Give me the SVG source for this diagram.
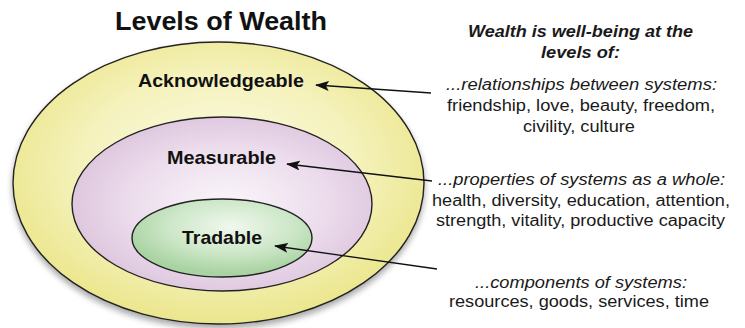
<svg xmlns="http://www.w3.org/2000/svg" width="745" height="328" viewBox="0 0 745 328">
<defs>
<radialGradient id="gY" cx="50%" cy="45%" r="55%">
<stop offset="0" stop-color="#fbfbe6"/>
<stop offset="0.6" stop-color="#f5f2bd"/>
<stop offset="1" stop-color="#ebe68c"/>
</radialGradient>
<radialGradient id="gP" cx="52%" cy="50%" r="55%">
<stop offset="0" stop-color="#faf6fa"/>
<stop offset="0.6" stop-color="#ecdcec"/>
<stop offset="1" stop-color="#dcc4dc"/>
</radialGradient>
<radialGradient id="gG" cx="55%" cy="35%" r="60%">
<stop offset="0" stop-color="#f0f8ee"/>
<stop offset="0.6" stop-color="#cbe6c6"/>
<stop offset="1" stop-color="#a9d3a2"/>
</radialGradient>
<filter id="sh" x="-10%" y="-10%" width="120%" height="125%">
<feGaussianBlur in="SourceAlpha" stdDeviation="3"/>
<feOffset dx="0" dy="4" result="b"/>
<feComponentTransfer><feFuncA type="linear" slope="0.35"/></feComponentTransfer>
<feMerge><feMergeNode/><feMergeNode in="SourceGraphic"/></feMerge>
</filter>
<marker id="ah" markerWidth="14" markerHeight="10" refX="13" refY="5" orient="auto" markerUnits="userSpaceOnUse">
<path d="M0,0 L14,5 L0,10 L3,5 Z" fill="#111"/>
</marker>
<style>
.ring{stroke:#222;stroke-width:1.4}
.lbl{font-family:"Liberation Sans",Arial,sans-serif;font-weight:bold;fill:#111;text-anchor:middle}
.txt{font-family:"Liberation Sans",Arial,sans-serif;fill:#1a1a1a;text-anchor:middle;font-size:16px}
.it{font-style:italic}
.conn{stroke:#111;stroke-width:1.3;fill:none;marker-end:url(#ah)}
</style>
</defs>
<rect width="745" height="328" fill="#ffffff"/>
<text class="lbl" x="221" y="30" font-size="25" textLength="212" lengthAdjust="spacingAndGlyphs">Levels of Wealth</text>
<g id="acknowledgeable">
<ellipse class="ring" cx="218.5" cy="183" rx="205.5" ry="141" fill="url(#gY)" filter="url(#sh)"/>
<text class="lbl" x="221" y="87" font-size="18.5" textLength="166" lengthAdjust="spacingAndGlyphs">Acknowledgeable</text>
</g>
<g id="measurable">
<ellipse class="ring" cx="222" cy="204" rx="150" ry="87" fill="url(#gP)"/>
<text class="lbl" x="221.5" y="164" font-size="18.5" textLength="109" lengthAdjust="spacingAndGlyphs">Measurable</text>
</g>
<g id="tradable">
<ellipse class="ring" cx="222" cy="238" rx="90" ry="39" fill="url(#gG)"/>
<text class="lbl" x="222" y="244" font-size="18.5" textLength="80" lengthAdjust="spacingAndGlyphs">Tradable</text>
</g>
<g id="header">
<text class="txt it" x="580.5" y="37" font-weight="bold" textLength="225" lengthAdjust="spacingAndGlyphs">Wealth is well-being at the</text>
<text class="txt it" x="580.5" y="58" font-weight="bold" textLength="79" lengthAdjust="spacingAndGlyphs">levels of:</text>
</g>
<g id="relationships">
<text class="txt it" x="581.5" y="90" textLength="271" lengthAdjust="spacingAndGlyphs">...relationships between systems:</text>
<text class="txt" x="581" y="111" textLength="268" lengthAdjust="spacingAndGlyphs">friendship, love, beauty, freedom,</text>
<text class="txt" x="579" y="132" textLength="112" lengthAdjust="spacingAndGlyphs">civility, culture</text>
</g>
<g id="properties">
<text class="txt it" x="581.5" y="185" textLength="287" lengthAdjust="spacingAndGlyphs">...properties of systems as a whole:</text>
<text class="txt" x="581" y="206" textLength="298" lengthAdjust="spacingAndGlyphs">health, diversity, education, attention,</text>
<text class="txt" x="580.5" y="226" textLength="289" lengthAdjust="spacingAndGlyphs">strength, vitality, productive capacity</text>
</g>
<g id="components">
<text class="txt it" x="581" y="288" textLength="212" lengthAdjust="spacingAndGlyphs">...components of systems:</text>
<text class="txt" x="579" y="307" textLength="260" lengthAdjust="spacingAndGlyphs">resources, goods, services, time</text>
</g>
<g id="connectors">
<line class="conn" x1="431" y1="93" x2="316" y2="85"/>
<line class="conn" x1="432" y1="181" x2="287" y2="164"/>
<line class="conn" x1="437" y1="269" x2="275" y2="246"/>
</g>
</svg>
